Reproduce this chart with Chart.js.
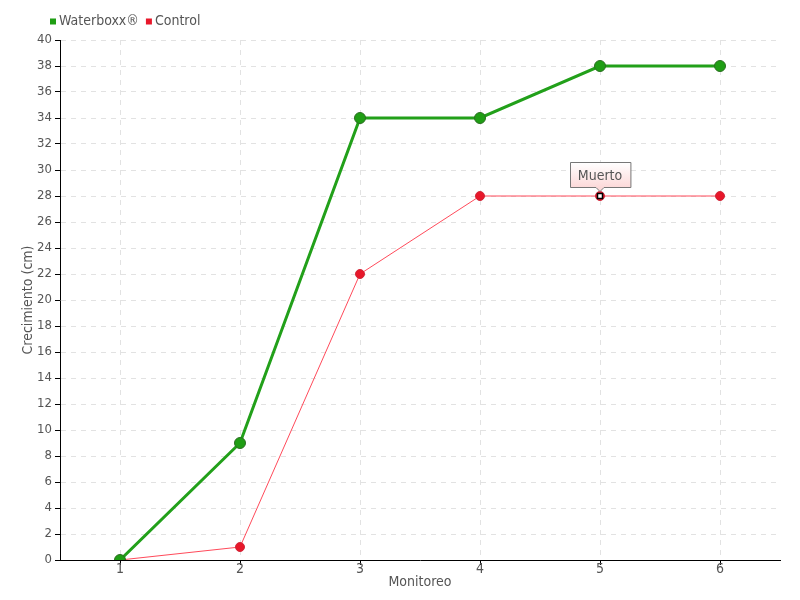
<!DOCTYPE html>
<html>
<head>
<meta charset="utf-8">
<script src="https://cdn.jsdelivr.net/npm/chart.js@4/dist/chart.umd.min.js"></script>
<style>
  body { margin: 0; background: #fff; }
</style>
</head>
<body>
<canvas id="myChart" width="800" height="600"></canvas>
<script>
var monitoreo = ['1', '2', '3', '4', '5', '6'];
var waterboxx = [0, 9, 34, 34, 38, 38];
var control = [0, 1, 22, 28, 28, 28];
var notaIndex = 4;
var notaTexto = 'Muerto';

var fontFam = "'DejaVu Sans', sans-serif";
Chart.defaults.font.family = fontFam;
Chart.defaults.font.weight = 'condensed';
Chart.defaults.color = '#555';

// small legend at top left
var leyenda = {
    id: 'leyenda',
    afterDraw: function(chart) {
        var ctx = chart.ctx;
        ctx.save();
        ctx.font = 'condensed 14px ' + fontFam;
        ctx.textBaseline = 'middle';
        var x = 50, y = 21.5;
        chart.data.datasets.forEach(function(ds) {
            ctx.fillStyle = ds.backgroundColor;
            ctx.fillRect(x, y - 3, 6, 6);
            ctx.fillStyle = '#555';
            ctx.fillText(ds.label, x + 9, y);
            x += 9 + ctx.measureText(ds.label).width + 7;
        });
        ctx.restore();
    }
};

var nota = {
    id: 'nota',
    afterDatasetsDraw: function(chart) {
        var meta = chart.getDatasetMeta(1);
        var pt = meta.data[notaIndex];
        var ctx = chart.ctx;
        var x = pt.x, y = pt.y;
        ctx.save();
        ctx.beginPath();
        ctx.rect(x - 2.5, y - 2.5, 5, 5);
        ctx.fillStyle = '#fff';
        ctx.fill();
        ctx.lineWidth = 1.5;
        ctx.strokeStyle = '#000';
        ctx.stroke();
        ctx.font = 'condensed 14px ' + fontFam;
        var w = ctx.measureText(notaTexto).width + 16;
        var h = 25;
        var bx = Math.round(x - w / 2) + 0.5, by = y - 34 + 0.5;
        var g = ctx.createLinearGradient(0, by, 0, by + h);
        g.addColorStop(0, '#fff');
        g.addColorStop(1, '#fcd9d9');
        ctx.beginPath();
        ctx.moveTo(bx, by);
        ctx.lineTo(bx + w, by);
        ctx.lineTo(bx + w, by + h);
        ctx.lineTo(x + 4, by + h);
        ctx.lineTo(x, by + h + 4);
        ctx.lineTo(x - 4, by + h);
        ctx.lineTo(bx, by + h);
        ctx.closePath();
        ctx.fillStyle = g;
        ctx.fill();
        ctx.lineWidth = 1;
        ctx.strokeStyle = '#777';
        ctx.stroke();
        ctx.fillStyle = '#555';
        ctx.textAlign = 'center';
        ctx.textBaseline = 'middle';
        ctx.fillText(notaTexto, x, by + h / 2 + 1);
        ctx.restore();
    }
};

var ctx = document.getElementById('myChart');
new Chart(ctx, {
    type: 'line',
    data: {
        labels: monitoreo,
        datasets: [{
            label: 'Waterboxx®',
            data: waterboxx,
            borderColor: '#22a01a',
            backgroundColor: '#1f9e14',
            pointBackgroundColor: '#1f9e14',
            pointBorderColor: '#2b6e22',
            pointBorderWidth: 1,
            borderWidth: 3,
            pointRadius: 5.5,
            tension: 0
        }, {
            label: 'Control',
            data: control,
            borderColor: '#ff4a5a',
            backgroundColor: '#e8172a',
            pointBackgroundColor: '#e8172a',
            pointBorderColor: '#d0283a',
            pointBorderWidth: 1,
            borderWidth: 1,
            pointRadius: 4.5,
            tension: 0
        }]
    },
    options: {
        responsive: false,
        animation: false,
        layout: { padding: { left: 0, right: 20, top: 40, bottom: 0 } },
        plugins: {
            legend: { display: false },
            tooltip: { enabled: false }
        },
        scales: {
            x: {
                offset: true,
                grid: {
                    offset: false,
                    color: '#e2e2e2',
                    tickColor: '#000',
                    tickBorderDash: [],
                    tickLength: 5
                },
                border: { color: '#000', width: 1, dash: [5, 5] },
                ticks: { color: '#555', font: { size: 14 }, padding: -4 },
                title: { display: true, text: 'Monitoreo', color: '#555', font: { size: 14 }, padding: { top: 0, bottom: 9 } },
                afterFit: function(s) { s.height = 40; }
            },
            y: {
                min: 0,
                max: 40,
                ticks: { stepSize: 2, color: '#555', font: { size: 13 }, padding: 3 },
                grid: {
                    color: '#e2e2e2',
                    tickColor: '#000',
                    tickBorderDash: [],
                    tickLength: 5
                },
                border: { color: '#000', width: 1, dash: [5, 5] },
                title: { display: true, text: 'Crecimiento (cm)', color: '#555', font: { size: 14 }, padding: { top: 20, bottom: 0 } },
                afterFit: function(s) { s.width = 60; }
            }
        }
    },
    plugins: [leyenda, nota]
});
</script>
</body>
</html>
